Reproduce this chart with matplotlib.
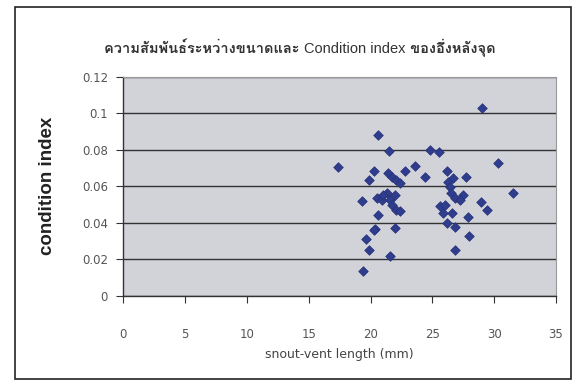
import matplotlib
matplotlib.use("Agg")
import matplotlib.pyplot as plt
from matplotlib import font_manager
from matplotlib.ft2font import FT2Font
from matplotlib.patches import Rectangle

# snout-vent length (mm) and condition index
svl = [29.0, 20.6, 21.5, 24.8, 25.5, 17.4, 30.3, 20.3, 19.9, 21.4,
       21.7, 22.1, 22.4, 22.8, 23.6, 24.4, 26.2, 26.7, 27.7, 31.5,
       19.3, 20.5, 20.9, 21.3, 21.6, 21.7, 22.1, 22.4, 20.6, 20.4,
       22.0, 19.6, 19.9, 21.6, 19.4, 26.3, 26.4, 26.5, 26.8, 27.5,
       27.2, 28.9, 29.4, 25.6, 25.9, 26.6, 27.9, 26.2, 26.8, 28.0,
       26.8, 20.3, 21.0, 22.0, 26.0]
cond = [0.1027, 0.0881, 0.0793, 0.0799, 0.0786, 0.0706, 0.0726, 0.0684, 0.0632, 0.0672,
        0.0652, 0.0634, 0.0616, 0.0686, 0.0711, 0.0649, 0.0681, 0.0647, 0.0653, 0.0565,
        0.0522, 0.0534, 0.0525, 0.0564, 0.0525, 0.0497, 0.0470, 0.0467, 0.0443, 0.0366,
        0.0374, 0.0311, 0.0249, 0.0219, 0.0135, 0.0626, 0.0598, 0.0565, 0.0534, 0.0550,
        0.0525, 0.0516, 0.0473, 0.0494, 0.0455, 0.0452, 0.0431, 0.0398, 0.0380, 0.0328,
        0.0249, 0.0360, 0.0555, 0.0555, 0.0500]

xticks = [0, 5, 10, 15, 20, 25, 30, 35]
yticks = [0, 0.02, 0.04, 0.06, 0.08, 0.1, 0.12]
ytick_labels = ['0', '0.02', '0.04', '0.06', '0.08', '0.1', '0.12']

# title pieces: Thai parts are heavier in the original
title_parts = [('ความสัมพันธ์ระหว่างขนาดและ ', 'bold'),
               ('Condition index', 'normal'),
               (' ของอึ่งหลังจุด', 'bold')]


def thai_font():
    # look for an installed font that has Thai glyphs
    for f in font_manager.fontManager.ttflist:
        try:
            if 0x0E01 in FT2Font(f.fname).get_charmap():
                return f.name
        except Exception:
            pass
    return None


tf = thai_font()
title_family = ['Liberation Sans'] + ([tf] if tf else []) + ['DejaVu Sans']

fig = plt.figure(figsize=(5.81, 3.81), dpi=100)
fig.patch.set_facecolor('white')
# outer chart border
fig.patches.append(Rectangle((0.026, 0.004), 0.956, 0.978, transform=fig.transFigure,
                             fill=False, edgecolor='#222222', linewidth=1.2))

ax = fig.add_axes([0.212, 0.223, 0.745, 0.576])
ax.set_facecolor('#d1d3d9')
ax.scatter(svl, cond, marker='D', s=24, color='#2f3d8c', edgecolors='#26327a',
           linewidths=0.5, zorder=3)

ax.set_xlim(0, 35)
ax.set_ylim(0, 0.12)
ax.set_xticks(xticks)
ax.set_yticks(yticks)
ax.set_yticklabels(ytick_labels)
ax.yaxis.grid(True, color='#333333', linewidth=1.0)
ax.set_axisbelow(True)

for s in ['top', 'right']:
    ax.spines[s].set_color('#999999')
    ax.spines[s].set_linewidth(0.8)
for s in ['left', 'bottom']:
    ax.spines[s].set_color('#333333')
    ax.spines[s].set_linewidth(1.0)

ax.tick_params(axis='x', direction='out', length=5, pad=18, colors='#333333',
               labelcolor='#555555', labelsize=8.5)
ax.tick_params(axis='y', direction='out', length=5, pad=6, colors='#333333',
               labelcolor='#555555', labelsize=8.5)
for lab in ax.get_xticklabels() + ax.get_yticklabels():
    lab.set_family('DejaVu Sans')

ax.set_xlabel('snout-vent length (mm)', family='DejaVu Sans', fontsize=9,
              color='#444444')
ax.xaxis.set_label_coords(0.5, -0.235)
ax.set_ylabel('condition index', family='Liberation Sans', fontsize=13.5,
              fontweight='bold', color='#222222')
ax.yaxis.set_label_coords(-0.155, 0.5)

# lay the title pieces out side by side on one baseline, centred as a whole
fig.canvas.draw()
renderer = fig.canvas.get_renderer()
texts = []
for s, w in title_parts:
    t = fig.text(0, 0.862, s, ha='left', va='baseline', fontsize=10.5,
                 family=title_family, fontweight=w, color='#333333')
    texts.append(t)
widths = [t.get_window_extent(renderer).width / fig.bbox.width for t in texts]
x0 = 0.516 - sum(widths) / 2
for t, w in zip(texts, widths):
    t.set_x(x0)
    x0 += w

fig.savefig('out.png', dpi=100)
